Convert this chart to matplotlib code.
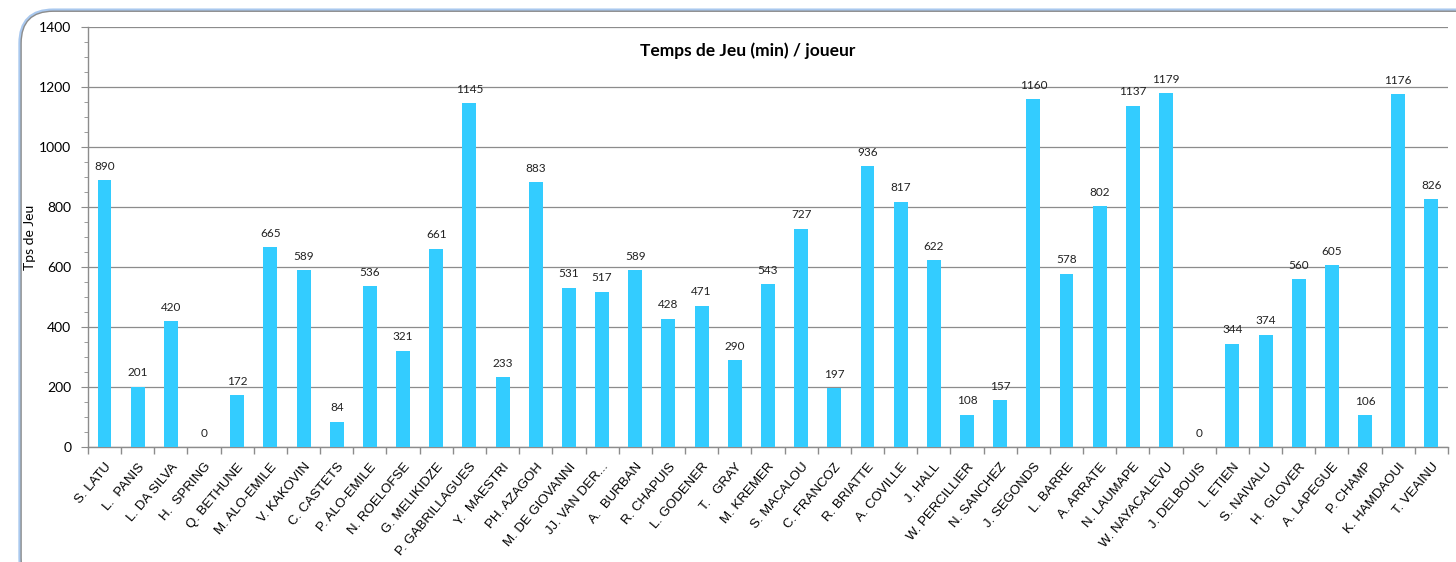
"""
Temps de jeu (min) par joueur
"""

import numpy as np
import matplotlib.pyplot as plt
from matplotlib.patches import FancyBboxPatch
from matplotlib.ticker import MultipleLocator

# Joueurs et minutes jouées
joueurs = [
    'S. LATU', 'L.  PANIS', 'L. DA SILVA', 'H.  SPRING', 'Q. BETHUNE',
    'M. ALO-EMILE', 'V. KAKOVIN', 'C. CASTETS', 'P. ALO-EMILE', 'N. ROELOFSE',
    'G. MELIKIDZE', 'P. GABRILLAGUES', 'Y.  MAESTRI', 'PH. AZAGOH',
    'M. DE GIOVANNI', 'JJ. VAN DER...', 'A.  BURBAN', 'R. CHAPUIS',
    'L. GODENER', 'T.   GRAY', 'M. KREMER', 'S. MACALOU', 'C. FRANCOZ',
    'R. BRIATTE', 'A. COVILLE', 'J. HALL', 'W. PERCILLIER', 'N. SANCHEZ',
    'J. SEGONDS', 'L. BARRE', 'A. ARRATE', 'N. LAUMAPE', 'W. NAYACALEVU',
    'J. DELBOUIS', 'L. ETIEN', 'S. NAIVALU', 'H.  GLOVER', 'A. LAPEGUE',
    'P. CHAMP', 'K. HAMDAOUI', 'T. VEAINU',
]
minutes = [
    890, 201, 420, 0, 172, 665, 589, 84, 536, 321,
    661, 1145, 233, 883, 531, 517, 589, 428, 471, 290,
    543, 727, 197, 936, 817, 622, 108, 157, 1160, 578,
    802, 1137, 1179, 0, 344, 374, 560, 605, 106, 1176, 826,
]

plt.rcParams['font.family'] = ['Lato', 'DejaVu Sans']

fig = plt.figure(figsize=(14.56, 5.62), dpi=100)

# Cadre arrondi autour du graphique
ombre = FancyBboxPatch((0.0145, -0.05), 1.02, 1.03, transform=fig.transFigure,
                       boxstyle='round,pad=0,rounding_size=0.022',
                       facecolor='none', edgecolor='#a9c8ee', linewidth=4,
                       mutation_aspect=1456 / 562, zorder=-2)
cadre = FancyBboxPatch((0.0145, -0.05), 1.02, 1.03, transform=fig.transFigure,
                       boxstyle='round,pad=0,rounding_size=0.022',
                       facecolor='white', edgecolor='#8c8c8c', linewidth=1,
                       mutation_aspect=1456 / 562, zorder=-1)
fig.patches.extend([ombre, cadre])

ax = fig.add_axes([0.0604, 0.2046, 0.9341, 0.7474])
ax.set_facecolor('none')

x = np.arange(len(joueurs))
barres = ax.bar(x, minutes, width=0.42, color='#33ccff', zorder=3)

# Valeurs au-dessus des barres
for xi, v in zip(x, minutes):
    ax.text(xi, v + 28, str(v), ha='center', va='bottom', fontsize=8.5,
            color='#222222', zorder=4)

ax.set_xlim(-0.5, len(joueurs) - 0.5)
ax.set_ylim(0, 1400)
ax.yaxis.set_major_locator(MultipleLocator(200))
ax.yaxis.set_minor_locator(MultipleLocator(50))
ax.grid(axis='y', color='#8c8c8c', linewidth=0.9, zorder=0)

# Graduations entre les catégories (style Excel)
ax.set_xticks(np.arange(-0.5, len(joueurs)), minor=True)
ax.set_xticks(x)
ax.set_xticklabels(joueurs, rotation=50, ha='right', va='top',
                   rotation_mode='anchor', fontsize=9.5,
                   family=['Liberation Sans', 'DejaVu Sans'])
ax.tick_params(axis='x', which='major', length=0, pad=10)
ax.tick_params(axis='x', which='minor', length=5, color='#8c8c8c', width=1)
ax.tick_params(axis='y', which='major', length=5, color='#8c8c8c',
               labelsize=10, pad=7)
ax.tick_params(axis='y', which='minor', length=3, color='#8c8c8c')

for s in ['top', 'right']:
    ax.spines[s].set_visible(False)
for s in ['left', 'bottom']:
    ax.spines[s].set_color('#8c8c8c')
    ax.spines[s].set_linewidth(1)

ax.set_ylabel('Tps de Jeu', fontsize=10, labelpad=2)
ax.set_title('Temps de Jeu (min) / joueur', fontsize=12.5, fontweight='bold',
             x=0.485, y=0.912)

fig.savefig('out.png', dpi=100)
